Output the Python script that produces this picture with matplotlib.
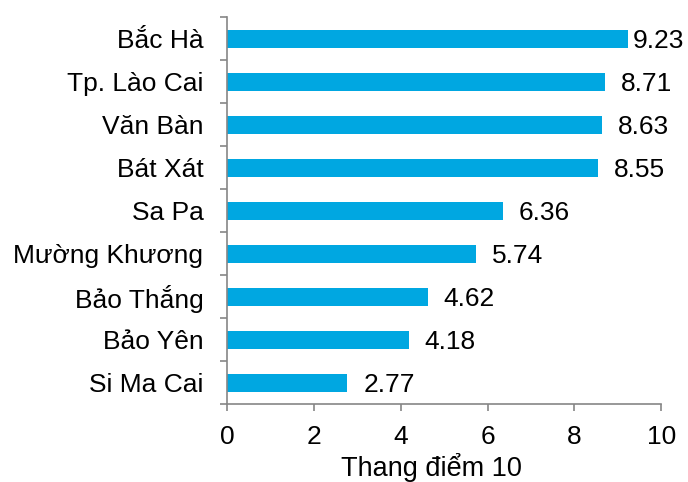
import numpy as np
import matplotlib.pyplot as plt

plt.rcParams['font.family'] = ['Liberation Sans', 'DejaVu Sans']

districts = ['Bắc Hà', 'Tp. Lào Cai', 'Văn Bàn', 'Bát Xát', 'Sa Pa',
             'Mường Khương', 'Bảo Thắng', 'Bảo Yên', 'Si Ma Cai']
scores = [9.23, 8.71, 8.63, 8.55, 6.36, 5.74, 4.62, 4.18, 2.77]

bar_color = '#00A7E1'
axis_gray = '#868686'

fig = plt.figure(figsize=(6.88, 4.82), dpi=100)
ax = fig.add_axes([0.33, 0.1608, 0.631, 0.8029])

y = np.arange(len(districts))
ax.barh(y, scores, height=0.4, color=bar_color)
ax.set_ylim(len(districts) - 0.5, -0.5)
ax.set_xlim(0, 10)
ax.set_xticks(np.arange(0, 11, 2))

ax.set_yticks(y)
ax.set_yticklabels(districts)
ax.set_yticks(np.arange(-0.5, len(districts)), minor=True)
ax.tick_params(axis='y', which='major', length=0, pad=17, labelsize=19)
ax.tick_params(axis='y', which='minor', length=5, width=1.2, color=axis_gray, direction='out')
ax.tick_params(axis='x', which='major', length=5, width=1.2, color=axis_gray, pad=10, labelsize=19)

for side in ['top', 'right']:
    ax.spines[side].set_visible(False)
for side in ['left', 'bottom']:
    ax.spines[side].set_color(axis_gray)
    ax.spines[side].set_linewidth(1.2)

ax.set_xlabel('Thang điểm 10', fontsize=19.5)
ax.xaxis.set_label_coords(0.47, -0.125)

# value labels to the right of each bar, pulled back inside the figure if needed
labels = []
for yi, v in zip(y, scores):
    t = ax.annotate(f'{v:.2f}', xy=(v, yi), xytext=(11.5, 0), textcoords='offset points',
                    ha='left', va='center_baseline', fontsize=19)
    labels.append(t)

fig.canvas.draw()
renderer = fig.canvas.get_renderer()
fig_w = fig.bbox.width
for t in labels:
    bb = t.get_window_extent(renderer)
    if bb.x1 > fig_w - 4:
        shift = (bb.x1 - (fig_w - 4)) * 72 / fig.dpi
        x0, y0 = t.xyann
        t.xyann = (x0 - shift, y0)

fig.savefig('out.png', dpi=100)
